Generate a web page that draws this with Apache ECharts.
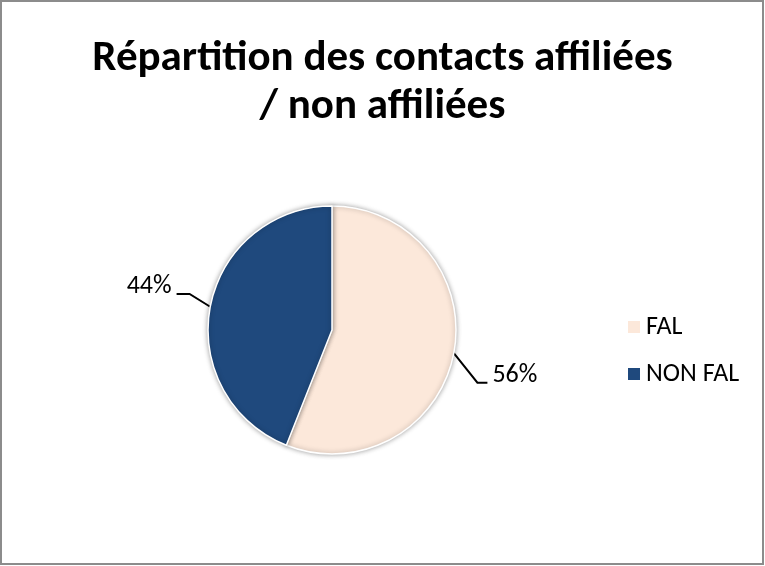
<!DOCTYPE html>
<html>
<head>
<meta charset="utf-8">
<script src="https://cdn.jsdelivr.net/npm/echarts@6/dist/echarts.min.js"></script>
<style>
  body { margin: 0; background: #fff; }
  #chart { width: 765px; height: 566px; }
</style>
</head>
<body>
<div id="chart"></div>
<script>
// data
const categories = ['FAL', 'NON FAL'];
const shares = [56, 44];
const colors = ['#FCE8DA', '#1F497D'];
// vertical shift of each label, Excel style
const labelShift = [18, -16];

const font = 'Carlito, "Liberation Sans Narrow", "DejaVu Sans Condensed", sans-serif';

const myChart = echarts.init(document.getElementById('chart'));

const option = {
    backgroundColor: '#fff',
    animation: false,
    title: {
        text: 'Répartition des contacts affiliées\n/ non affiliées',
        left: 'center',
        top: 30,
        textStyle: {
            fontFamily: font,
            fontSize: 43,
            fontWeight: 'bold',
            lineHeight: 48,
            color: '#000'
        }
    },
    legend: {
        orient: 'vertical',
        left: 621,
        top: 309,
        itemWidth: 14,
        itemHeight: 14,
        itemGap: 21,
        icon: 'rect',
        textStyle: { fontFamily: font, fontSize: 26, color: '#000' },
        data: categories
    },
    graphic: [{
        type: 'rect',
        shape: { x: 1, y: 1, width: 762, height: 563 },
        style: { fill: 'none', stroke: '#8c8c8c', lineWidth: 2 }
    }],
    series: [{
        type: 'pie',
        center: [332, 330],
        radius: 124,
        startAngle: 90,
        clockwise: true,
        color: colors,
        itemStyle: {
            borderColor: '#fff',
            borderWidth: 1.5,
            shadowBlur: 5,
            shadowColor: 'rgba(0,0,0,0.35)'
        },
        label: {
            show: true,
            position: 'outside',
            formatter: '{d}%',
            fontFamily: font,
            fontSize: 26,
            color: '#000'
        },
        labelLine: {
            show: true,
            length: 22,
            length2: 12,
            lineStyle: { color: '#000', width: 2 }
        },
        // move labels and rebuild the leader: edge point -> elbow -> under the text
        labelLayout: function (params) {
            const i = params.dataIndex;
            const dy = labelShift[i];
            const r = params.labelRect;
            const p = params.labelLinePoints;
            if (!p) return { dy: dy };
            const right = p[0][0] < p[p.length - 1][0];
            const y = r.y + dy + r.height * 0.78;
            const endX = right ? r.x - 5 : r.x + r.width + 5;
            const midX = right ? endX - 10 : endX + 13;
            return { dy: dy, labelLinePoints: [p[0], [midX, y], [endX, y]] };
        },
        emphasis: { disabled: true },
        data: categories.map((name, i) => ({ name: name, value: shares[i] }))
    }]
};

myChart.setOption(option);
</script>
</body>
</html>
